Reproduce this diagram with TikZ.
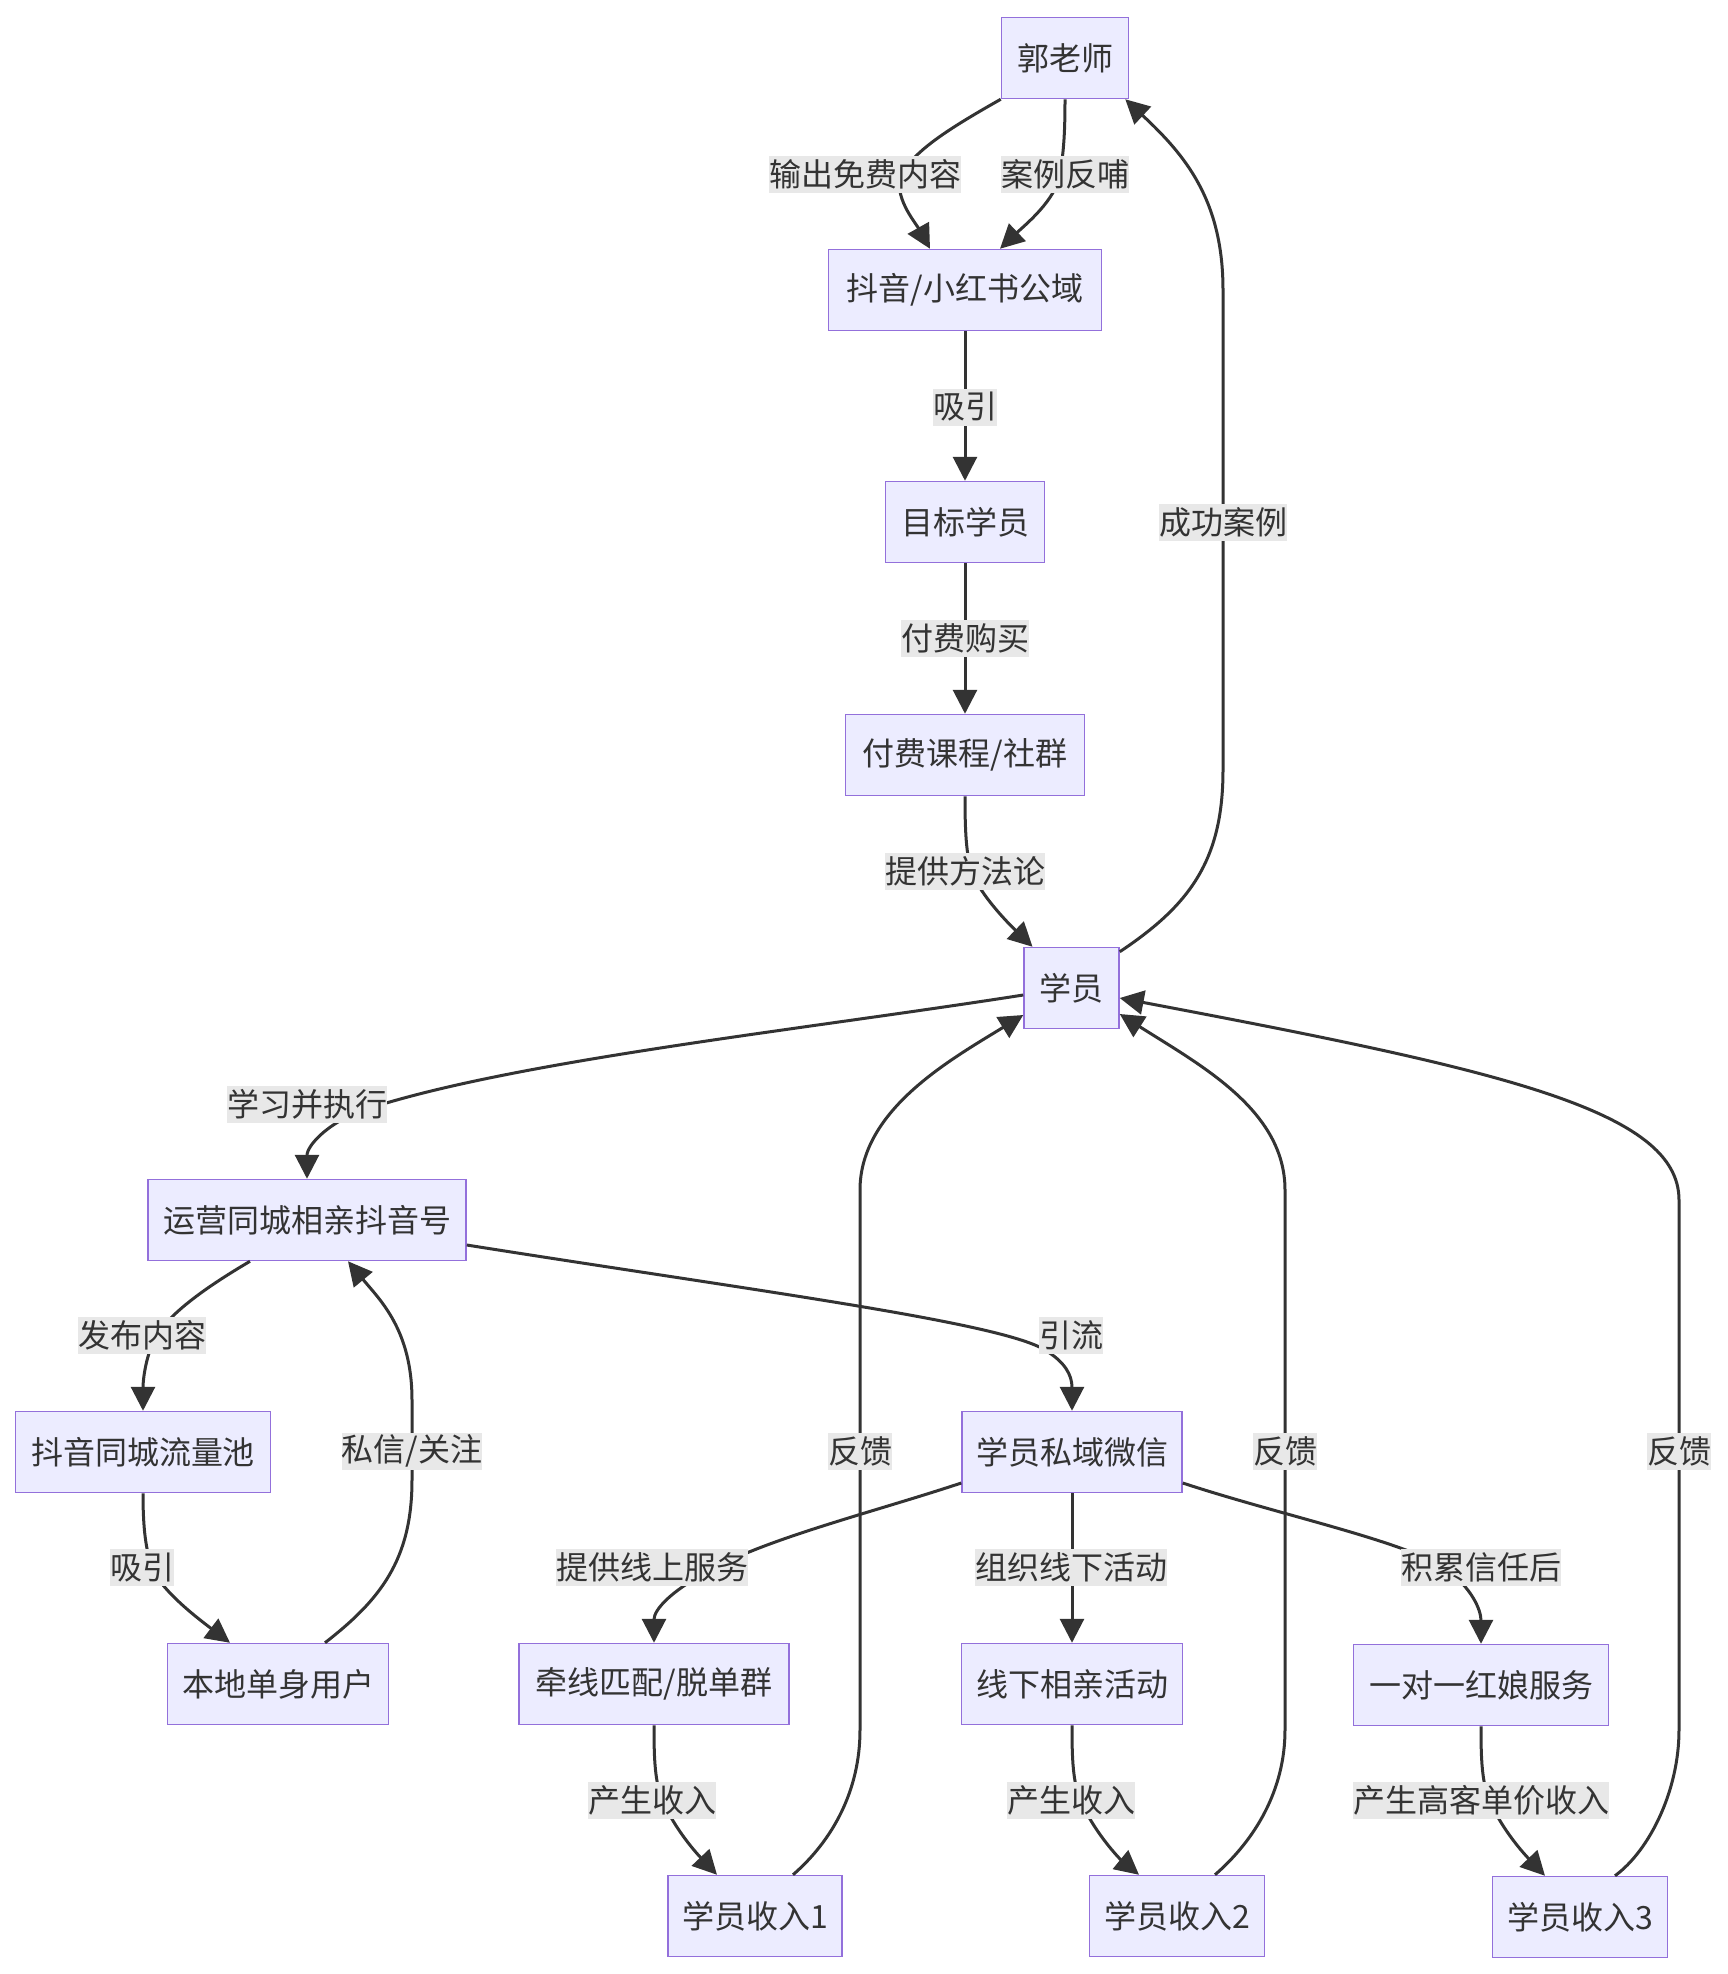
\documentclass[tikz,border=0pt]{standalone}
\usepackage{fontspec}
\setmainfont{Noto Sans CJK SC}
\usetikzlibrary{arrows.meta}
\definecolor{nodefill}{HTML}{ECECFF}
\definecolor{nodeline}{HTML}{9370DB}
\definecolor{ink}{HTML}{333333}
\definecolor{lblbg}{HTML}{E8E8E8}
\begin{document}
\begin{tikzpicture}[x=1pt,y=-1pt,
  box/.style={draw=nodeline, fill=nodefill, line width=1.5pt, minimum height=81pt, inner sep=0pt, text=ink, font=\fontsize{32}{38}\selectfont},
  lbl/.style={fill=lblbg, inner xsep=0pt, inner ysep=0pt, minimum height=37pt, text=ink, font=\fontsize{32}{38}\selectfont},
  edge/.style={draw=ink, line width=3pt, -{Triangle[length=24pt,width=24pt]}}]
\fill[white] (0,0) rectangle (1728,1974);
\useasboundingbox (0,0) rectangle (1728,1974);
% nodes
\node[box, minimum width=127pt] (t) at (1065,58) {郭老师};
\node[box, minimum width=273pt] (pub) at (965,290) {抖音/小红书公域};
\node[box, minimum width=159pt] (tgt) at (965,522) {目标学员};
\node[box, minimum width=239pt] (crs) at (965,755) {付费课程/社群};
\node[box, minimum width=95pt] (stu) at (1071.5,988) {学员};
\node[box, minimum width=318pt] (ops) at (307,1220) {运营同城相亲抖音号};
\node[box, minimum width=255pt] (pool) at (143,1452) {抖音同城流量池};
\node[box, minimum width=221pt] (loc) at (278,1684) {本地单身用户};
\node[box, minimum width=220pt] (wx) at (1072,1452) {学员私域微信};
\node[box, minimum width=270pt] (match) at (654,1684) {牵线匹配/脱单群};
\node[box, minimum width=221pt] (off) at (1072,1684) {线下相亲活动};
\node[box, minimum width=255pt] (one) at (1481,1685) {一对一红娘服务};
\node[box, minimum width=174pt] (in1) at (755,1916) {学员收入1};
\node[box, minimum width=175pt] (in2) at (1177,1916) {学员收入2};
\node[box, minimum width=175pt] (in3) at (1580,1917) {学员收入3};
% edges
\draw[edge] (t.south west) .. controls (950,128) and (915,150) .. (902,174) .. controls (892,195) and (915,222) .. ([xshift=-35pt]pub.north);
\draw[edge] (t.south) .. controls (1065,130) and (1064,150) .. (1060,174) .. controls (1056,200) and (1025,225) .. ([xshift=35pt]pub.north);
\draw[edge] (pub.south) -- (tgt.north);
\draw[edge] (tgt.south) -- (crs.north);
\draw[edge] (crs.south) .. controls (965,830) and (966,855) .. (972,872) .. controls (980,895) and (1010,925) .. ([xshift=-39pt]stu.north);
\draw[edge] ([yshift=-5pt]stu.north east) .. controls (1190,905) and (1223,860) .. (1223,770) -- (1223,290) .. controls (1223,200) and (1185,155) .. ([xshift=-4pt]t.south east);
\draw[edge] ([yshift=-7pt]stu.west) .. controls (800,1030) and (520,1060) .. (370,1108) .. controls (330,1120) and (307,1145) .. (ops.north);
\draw[edge] ([yshift=-25pt]ops.east) .. controls (750,1290) and (1000,1322) .. (1045,1350) .. controls (1065,1362) and (1072,1375) .. (wx.north);
\draw[edge] ([xshift=-57pt]ops.south) .. controls (215,1282) and (180,1305) .. (160,1330) .. controls (146,1350) and (143,1380) .. (pool.north);
\draw[edge] (pool.south) .. controls (143,1530) and (146,1550) .. (152,1567) .. controls (160,1590) and (200,1620) .. ([xshift=-48pt]loc.north);
\draw[edge] ([xshift=47pt]loc.north) .. controls (380,1600) and (412,1560) .. (412,1480) -- (412,1400) .. controls (412,1330) and (380,1300) .. ([xshift=41pt]ops.south);
\draw[edge] ([yshift=-31pt]wx.west) .. controls (880,1510) and (780,1535) .. (720,1565) .. controls (670,1590) and (654,1610) .. (match.north);
\draw[edge] (wx.south) -- (off.north);
\draw[edge] ([yshift=-31pt]wx.east) .. controls (1280,1515) and (1400,1540) .. (1445,1568) .. controls (1472,1588) and (1481,1610) .. (one.north);
\draw[edge] (match.south) .. controls (654,1765) and (655,1790) .. (668,1812) .. controls (683,1840) and (703,1860) .. ([xshift=-38pt]in1.north);
\draw[edge] (off.south) .. controls (1072,1765) and (1073,1790) .. (1086,1812) .. controls (1101,1840) and (1121,1860) .. ([xshift=-38pt]in2.north);
\draw[edge] (one.south) .. controls (1481,1765) and (1482,1790) .. (1495,1812) .. controls (1510,1840) and (1530,1860) .. ([xshift=-35pt]in3.north);
\draw[edge] ([xshift=38pt]in1.north) .. controls (833,1840) and (860,1790) .. (860,1730) -- (860,1190) .. controls (860,1110) and (950,1060) .. ([yshift=-27pt]stu.west);
\draw[edge] ([xshift=38pt]in2.north) .. controls (1255,1840) and (1285,1790) .. (1285,1730) -- (1285,1190) .. controls (1285,1110) and (1200,1065) .. ([yshift=-26pt]stu.east);
\draw[edge] ([xshift=35pt]in3.north) .. controls (1650,1850) and (1679,1790) .. (1679,1730) -- (1679,1200) .. controls (1679,1110) and (1500,1070) .. ([yshift=-10pt]stu.east);
% labels
\node[lbl] (l1) at (865,174) {输出免费内容};
\node[lbl] (l2) at (1065,174) {案例反哺};
\node[lbl] (l3) at (965,407) {吸引};
\node[lbl] (l4) at (965,638) {付费购买};
\node[lbl] (l5) at (965,871) {提供方法论};
\node[lbl] (l6) at (1223,522) {成功案例};
\node[lbl] (l7) at (307,1104) {学习并执行};
\node[lbl] (l8) at (142,1335) {发布内容};
\node[lbl] (l9) at (412,1451) {私信/关注};
\node[lbl] (l10) at (142,1567) {吸引};
\node[lbl] (l11) at (1071,1335) {引流};
\node[lbl] (l12) at (860,1451) {反馈};
\node[lbl] (l13) at (1285,1451) {反馈};
\node[lbl] (l14) at (1679,1451) {反馈};
\node[lbl] (l15) at (652,1567) {提供线上服务};
\node[lbl] (l16) at (1071,1567) {组织线下活动};
\node[lbl] (l17) at (1481,1567) {积累信任后};
\node[lbl] (l18) at (652,1800) {产生收入};
\node[lbl] (l19) at (1071,1800) {产生收入};
\node[lbl] (l20) at (1481,1800) {产生高客单价收入};
\end{tikzpicture}
\end{document}
